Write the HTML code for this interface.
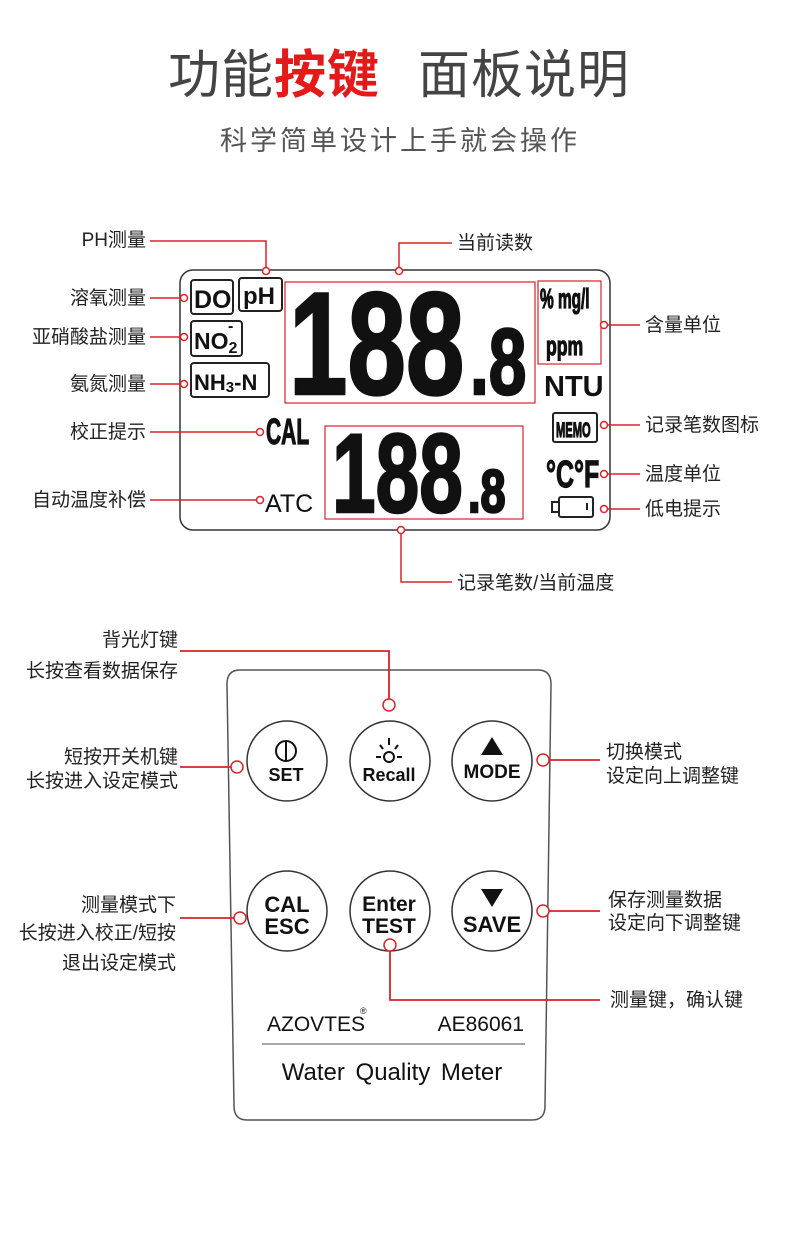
<!DOCTYPE html>
<html><head><meta charset="utf-8"><style>
html,body{margin:0;padding:0;background:#fff}
svg{display:block}
text{font-family:"Liberation Sans","Noto Sans CJK SC",sans-serif}
.cn{font-size:19px;fill:#222}
.seg{font-family:"Liberation Sans",sans-serif;font-weight:bold;fill:#111;stroke:#111;stroke-width:2.5px}
.sm{stroke-width:1px}
</style></head><body>
<svg width="790" height="1250" viewBox="0 0 790 1250" xmlns="http://www.w3.org/2000/svg">
<!-- title -->
<text x="168" y="93" font-size="52" fill="#444" letter-spacing="1">功能<tspan fill="#e21a1a" font-weight="bold">按键</tspan><tspan x="418">面板说明</tspan></text>
<text x="400" y="150" text-anchor="middle" font-size="27" fill="#555" letter-spacing="3">科学简单设计上手就会操作</text>

<!-- LCD -->
<rect x="180" y="270" width="430" height="260" rx="13" fill="none" stroke="#333" stroke-width="1.5"/>
<g fill="none" stroke="#d8232a" stroke-width="1.2">
<rect x="285" y="282" width="250" height="121"/>
<rect x="538" y="281" width="63" height="83"/>
<rect x="325" y="426" width="198" height="93"/>
</g>
<g fill="none" stroke="#222" stroke-width="2">
<rect x="191" y="280" width="42" height="34" rx="3"/>
<rect x="239" y="278" width="43" height="33" rx="3"/>
<rect x="191" y="321" width="51" height="35" rx="3"/>
<rect x="191" y="363" width="78" height="34" rx="3"/>
<rect x="553" y="413" width="44" height="29" rx="2"/>
<rect x="559" y="497" width="34" height="20" rx="2"/>
<rect x="552" y="502" width="7" height="10"/>
</g>
<line x1="587" y1="503" x2="587" y2="510" stroke="#222" stroke-width="2"/>
<g font-weight="bold" fill="#111">
<text x="194" y="308" font-size="25">DO</text>
<text x="243" y="304" font-size="24">pH</text>
<text x="194" y="349" font-size="23">NO<tspan font-size="16" dy="4">2</tspan></text>
<text x="228" y="331" font-size="16">-</text>
<text x="194" y="390" font-size="22">NH<tspan font-size="15" dy="2">3</tspan><tspan dy="-2">-N</tspan></text>
<text class="seg sm" font-size="22" transform="translate(540,308) scale(0.7,1.25)">% mg/l</text>
<text class="seg sm" font-size="22" transform="translate(546,355) scale(0.8,1.2)">ppm</text>
<text x="544" y="396" font-size="29">NTU</text>
<text class="seg sm" font-size="18" transform="translate(556,437) scale(0.62,1.2)">MEMO</text>
<text class="seg sm" font-size="32" transform="translate(546,487) scale(0.78,1.2)">°C°F</text>
<text class="seg sm" font-size="30" transform="translate(266,444) scale(0.7,1.2)">CAL</text>
<text x="265" y="512" font-size="25" fill="#111" font-weight="normal">ATC</text>
</g>
<text class="seg" font-size="146" transform="translate(289,394) scale(0.72,1)">188</text>
<text class="seg" font-size="94" transform="translate(470,394) scale(0.72,1)">.8</text>
<text class="seg" font-size="112" transform="translate(332,512) scale(0.7,1)">188</text>
<text class="seg" font-size="60" transform="translate(468,512) scale(0.75,1)">.8</text>

<!-- LCD connectors -->
<g fill="none" stroke="#d8232a" stroke-width="1.5">
<polyline points="150,241 266,241 266,268"/>
<polyline points="399,268 399,243 452,243"/>
<line x1="150" y1="298" x2="180" y2="298"/>
<line x1="150" y1="337" x2="180" y2="337"/>
<line x1="150" y1="384" x2="180" y2="384"/>
<line x1="150" y1="432" x2="256" y2="432"/>
<line x1="150" y1="500" x2="256" y2="500"/>
<line x1="607" y1="325" x2="640" y2="325"/>
<line x1="607" y1="425" x2="640" y2="425"/>
<line x1="607" y1="474" x2="640" y2="474"/>
<line x1="607" y1="509" x2="640" y2="509"/>
<polyline points="401,533 401,582 452,582"/>
</g>
<g fill="#fff" stroke="#d8232a" stroke-width="1.5">
<circle cx="266" cy="271" r="3.5"/><circle cx="399" cy="271" r="3.5"/>
<circle cx="184" cy="298" r="3.5"/><circle cx="184" cy="337" r="3.5"/><circle cx="184" cy="384" r="3.5"/>
<circle cx="260" cy="432" r="3.5"/><circle cx="260" cy="500" r="3.5"/>
<circle cx="604" cy="325" r="3.5"/><circle cx="604" cy="425" r="3.5"/><circle cx="604" cy="474" r="3.5"/><circle cx="604" cy="509" r="3.5"/>
<circle cx="401" cy="530" r="3.5"/>
</g>
<g class="cn">
<text x="146" y="246" text-anchor="end">PH测量</text>
<text x="146" y="304" text-anchor="end">溶氧测量</text>
<text x="146" y="343" text-anchor="end">亚硝酸盐测量</text>
<text x="146" y="390" text-anchor="end">氨氮测量</text>
<text x="146" y="438" text-anchor="end">校正提示</text>
<text x="146" y="506" text-anchor="end">自动温度补偿</text>
<text x="457" y="249">当前读数</text>
<text x="645" y="331">含量单位</text>
<text x="645" y="431">记录笔数图标</text>
<text x="645" y="480">温度单位</text>
<text x="645" y="515">低电提示</text>
<text x="457" y="589">记录笔数/当前温度</text>
</g>

<!-- device -->
<path d="M240,670 H538 Q551,670 551,684 L545,1106 Q545,1120 532,1120 H247 Q234,1120 234,1106 L227,684 Q227,670 240,670 Z" fill="none" stroke="#555" stroke-width="1.5"/>
<g fill="#fff" stroke="#333" stroke-width="1.5">
<circle cx="287" cy="761" r="40"/><circle cx="390" cy="761" r="40"/><circle cx="492" cy="761" r="40"/>
<circle cx="287" cy="911" r="40"/><circle cx="390" cy="911" r="40"/><circle cx="492" cy="911" r="40"/>
</g>
<g fill="none" stroke="#111" stroke-width="2">
<circle cx="286" cy="751" r="10"/><line x1="286" y1="741" x2="286" y2="761"/>
<circle cx="389" cy="757" r="5"/>
<line x1="389" y1="738" x2="389" y2="745"/><line x1="376" y1="757" x2="381" y2="757"/><line x1="397" y1="757" x2="402" y2="757"/>
<line x1="380" y1="745" x2="383" y2="749"/><line x1="398" y1="745" x2="395" y2="749"/>
</g>
<polygon points="492,737 481,755 503,755" fill="#111"/>
<polygon points="481,889 503,889 492,907" fill="#111"/>
<g font-weight="bold" fill="#111" text-anchor="middle">
<text x="286" y="781" font-size="18">SET</text>
<text x="389" y="781" font-size="18">Recall</text>
<text x="492" y="778" font-size="19">MODE</text>
<text x="287" y="912" font-size="22">CAL</text>
<text x="287" y="934" font-size="22">ESC</text>
<text x="389" y="911" font-size="21">Enter</text>
<text x="389" y="933" font-size="21">TEST</text>
<text x="492" y="932" font-size="22">SAVE</text>
</g>
<text x="267" y="1031" font-size="21" fill="#111">AZOVTES</text>
<text x="360" y="1014" font-size="9" fill="#111">®</text>
<text x="524" y="1031" font-size="21" fill="#111" text-anchor="end">AE86061</text>
<line x1="262" y1="1044" x2="525" y2="1044" stroke="#888" stroke-width="1.5"/>
<text x="392" y="1080" font-size="24" fill="#111" text-anchor="middle" word-spacing="4">Water Quality Meter</text>

<!-- device connectors -->
<g fill="none" stroke="#d8232a" stroke-width="1.8">
<polyline points="180,651 389,651 389,700"/>
<line x1="180" y1="767" x2="232" y2="767"/>
<line x1="548" y1="760" x2="600" y2="760"/>
<line x1="180" y1="918" x2="235" y2="918"/>
<line x1="548" y1="911" x2="600" y2="911"/>
<polyline points="390,951 390,1000 600,1000"/>
</g>
<g fill="#fff" stroke="#d8232a" stroke-width="1.5">
<circle cx="389" cy="705" r="6"/><circle cx="237" cy="767" r="6"/><circle cx="543" cy="760" r="6"/>
<circle cx="240" cy="918" r="6"/><circle cx="543" cy="911" r="6"/><circle cx="390" cy="945" r="6"/>
</g>
<g class="cn" font-size="18">
<text x="178" y="646" text-anchor="end">背光灯键</text>
<text x="178" y="677" text-anchor="end">长按查看数据保存</text>
<text x="178" y="763" text-anchor="end">短按开关机键</text>
<text x="178" y="787" text-anchor="end">长按进入设定模式</text>
<text x="606" y="758">切换模式</text>
<text x="606" y="782">设定向上调整键</text>
<text x="176" y="911" text-anchor="end">测量模式下</text>
<text x="176" y="939" text-anchor="end">长按进入校正/短按</text>
<text x="176" y="969" text-anchor="end">退出设定模式</text>
<text x="608" y="906">保存测量数据</text>
<text x="608" y="929">设定向下调整键</text>
<text x="610" y="1006">测量键，确认键</text>
</g>
</svg>
</body></html>
